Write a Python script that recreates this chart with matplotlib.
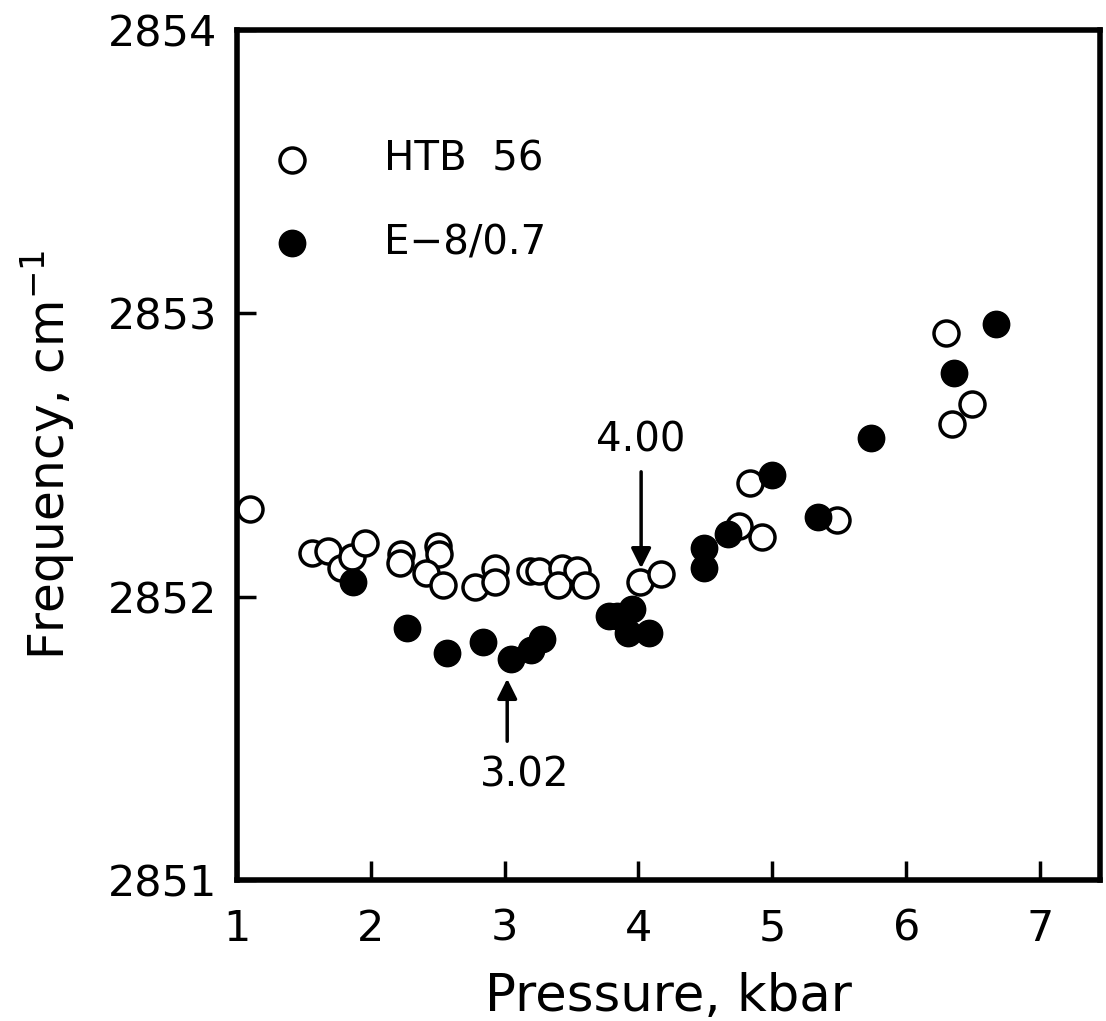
import numpy as np
import matplotlib.pyplot as plt

# HTB 56 (open circles)
htb_p = [1.10, 1.56, 1.68, 1.78, 1.86, 1.96, 2.23, 2.22, 2.50, 2.51, 2.41, 2.54,
         2.78, 2.93, 2.93, 3.19, 3.26, 3.43, 3.40, 3.54, 3.60, 4.01, 4.17,
         4.75, 4.92, 4.83, 5.48, 6.30, 6.49, 6.34]
htb_f = [2852.31, 2852.155, 2852.16, 2852.10, 2852.14, 2852.19, 2852.15, 2852.12,
         2852.18, 2852.15, 2852.085, 2852.04, 2852.035, 2852.10, 2852.05,
         2852.09, 2852.09, 2852.10, 2852.04, 2852.095, 2852.04, 2852.05, 2852.08,
         2852.25, 2852.21, 2852.40, 2852.27, 2852.93, 2852.68, 2852.61]

# E-8/0.7 (filled circles)
e8_p = [1.87, 2.27, 2.57, 2.84, 3.05, 3.20, 3.28, 3.78, 3.84, 3.95, 3.92, 4.08,
        4.49, 4.49, 4.67, 5.00, 5.34, 5.74, 6.36, 6.67]
e8_f = [2852.05, 2851.89, 2851.80, 2851.84, 2851.78, 2851.81, 2851.85, 2851.93,
        2851.93, 2851.955, 2851.87, 2851.87, 2852.17, 2852.10, 2852.22, 2852.43,
        2852.28, 2852.56, 2852.79, 2852.96]

plt.rcParams['font.family'] = ['DejaVu Sans']

fig = plt.figure(figsize=(11.06, 10.21), dpi=100)
ax = fig.add_axes([0.214, 0.138, 0.781, 0.833])

ax.plot(htb_p, htb_f, 'o', ms=18, mfc='white', mec='black', mew=2.5,
        linestyle='none')
ax.plot(e8_p, e8_f, 'o', ms=19, mfc='black', mec='black', mew=1,
        linestyle='none')

# legend drawn as markers and text in axes coordinates
ax.plot([0.064], [0.847], 'o', ms=18, mfc='white', mec='black', mew=2.5,
        transform=ax.transAxes, clip_on=False)
ax.plot([0.064], [0.749], 'o', ms=19, mfc='black', mec='black',
        transform=ax.transAxes, clip_on=False)
ax.text(0.17, 0.847, 'HTB  56', transform=ax.transAxes, fontsize=29,
        va='center', ha='left')
ax.text(0.17, 0.749, 'E\u22128/0.7', transform=ax.transAxes, fontsize=29,
        va='center', ha='left')

# annotations
ax.annotate('', xy=(4.02, 2852.09), xytext=(4.02, 2852.45),
            arrowprops=dict(arrowstyle='-|>', color='black', lw=2.5,
                            mutation_scale=30))
ax.text(4.02, 2852.55, '4.00', fontsize=29, ha='center', va='center')
ax.annotate('', xy=(3.02, 2851.72), xytext=(3.02, 2851.48),
            arrowprops=dict(arrowstyle='-|>', color='black', lw=2.5,
                            mutation_scale=30))
ax.text(3.15, 2851.37, '3.02', fontsize=29, ha='center', va='center')

ax.set_xlim(1, 7.45)
ax.set_ylim(2851, 2854)
ax.set_xticks([1, 2, 3, 4, 5, 6, 7])
ax.set_yticks([2851, 2852, 2853, 2854])
ax.tick_params(direction='in', length=14, width=2.5, labelsize=31, pad=14)
ax.tick_params(axis='x', pad=20)
for s in ax.spines.values():
    s.set_linewidth(4)

ax.set_xlabel('Pressure, kbar', fontsize=37, labelpad=16)
ax.set_ylabel('Frequency, cm$^{-1}$', fontsize=35, labelpad=22)

fig.savefig('out.png', dpi=100)
